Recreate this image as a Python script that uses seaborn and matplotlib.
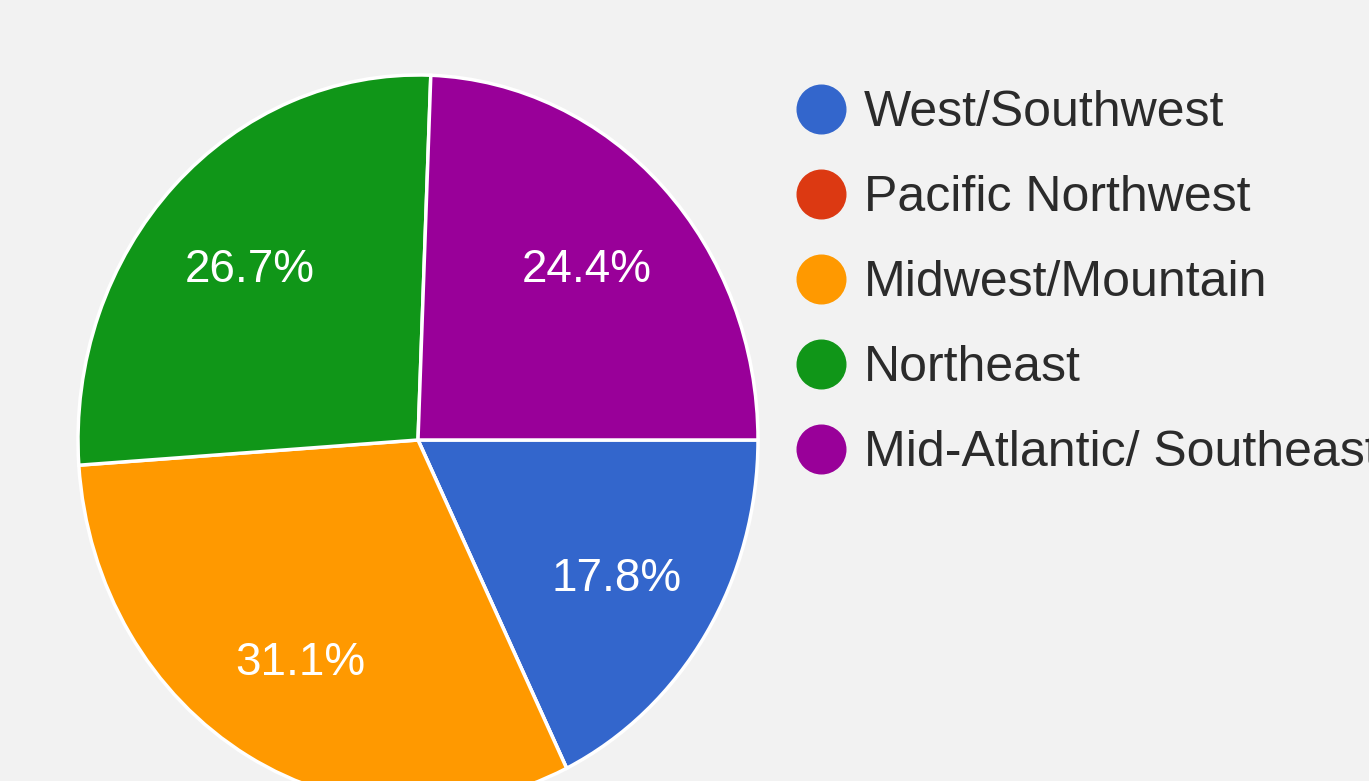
import matplotlib
matplotlib.use("Agg")
import matplotlib.pyplot as plt
import matplotlib.transforms as mtransforms
from matplotlib.lines import Line2D
import seaborn as sns

# Survey answers by region (percent of respondents)
regions = [
    "West/Southwest",
    "Pacific Northwest",
    "Midwest/Mountain",
    "Northeast",
    "Mid-Atlantic/ Southeast",
]
shares = [17.8, 0.0, 31.1, 26.7, 24.4]
region_colors = ["#3366cc", "#dc3912", "#ff9900", "#109618", "#990099"]

bg = "#f2f2f2"
sns.set_theme(style="white", rc={"figure.facecolor": bg, "axes.facecolor": bg})
plt.rcParams["font.family"] = ["Liberation Sans", "DejaVu Sans"]

palette = sns.color_palette(region_colors)

fig = plt.figure(figsize=(13.69, 7.81), dpi=100)
# pie is slightly taller than wide in the reference, and runs off the bottom
ax = fig.add_axes([78 / 1369, (781 - 805) / 781, 680 / 1369, 730 / 781])


def fmt_pct(p):
    return "" if p < 0.05 else f"{p:.1f}%"


wedges, _, autotexts = ax.pie(
    shares,
    colors=palette,
    startangle=0,
    counterclock=False,
    autopct=fmt_pct,
    pctdistance=0.69,
    wedgeprops={"edgecolor": "white", "linewidth": 2.5},
    textprops={"color": "white", "fontsize": 33},
)
ax.set_aspect("auto")
ax.set_xlim(-1, 1)
ax.set_ylim(-1, 1)
ax.axis("off")

# labels sit a few pixels lower in the original
shift = mtransforms.ScaledTranslation(0, -5 / 100, fig.dpi_scale_trans)
for t in autotexts:
    t.set_transform(t.get_transform() + shift)

handles = [
    Line2D([], [], marker="o", linestyle="none", markersize=35,
           markerfacecolor=c, markeredgecolor=c)
    for c in palette
]
leg = fig.legend(
    handles, regions,
    loc="upper left",
    bbox_to_anchor=(804 / 1369, 1 - 90 / 781),
    frameon=False,
    fontsize=36,
    handlelength=0.7,
    handletextpad=0.5,
    labelspacing=0.78,
    borderaxespad=0,
    borderpad=0,
)
for t in leg.get_texts():
    t.set_color("#2b2b2b")

fig.savefig("out.png", dpi=100, facecolor=bg)
